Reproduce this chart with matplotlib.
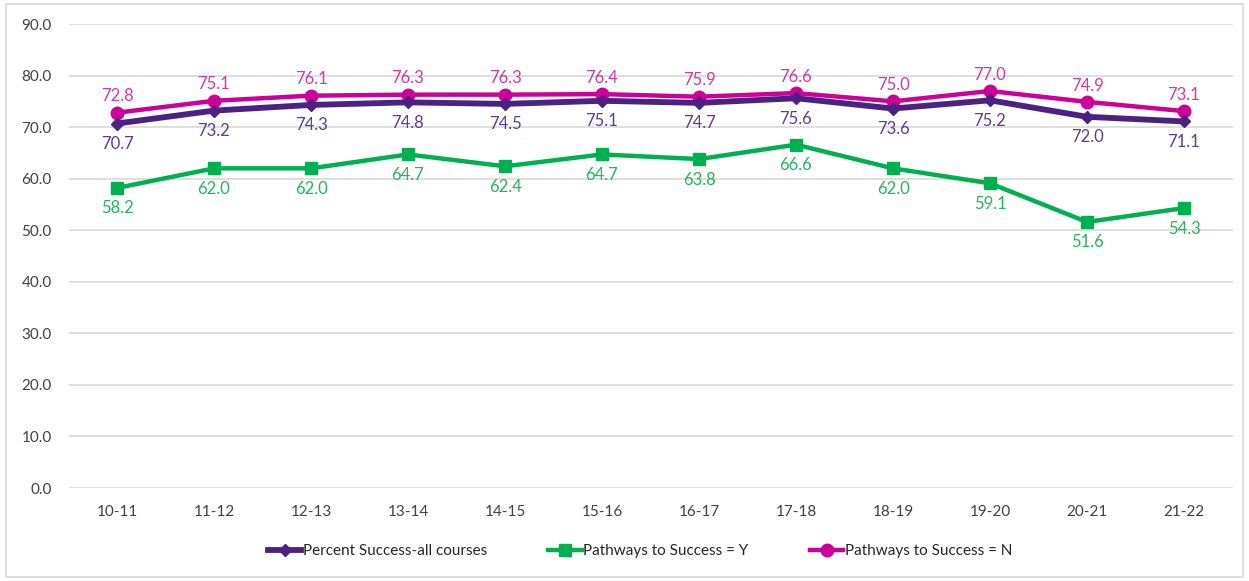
import matplotlib
matplotlib.use("Agg")
import matplotlib.pyplot as plt
from matplotlib.patches import Rectangle

categories = ["10-11", "11-12", "12-13", "13-14", "14-15", "15-16", "16-17", "17-18", "18-19", "19-20", "20-21", "21-22"]
all_courses = [70.7, 73.2, 74.3, 74.8, 74.5, 75.1, 74.7, 75.6, 73.6, 75.2, 72.0, 71.1]
pathways_y = [58.2, 62.0, 62.0, 64.7, 62.4, 64.7, 63.8, 66.6, 62.0, 59.1, 51.6, 54.3]
pathways_n = [72.8, 75.1, 76.1, 76.3, 76.3, 76.4, 75.9, 76.6, 75.0, 77.0, 74.9, 73.1]
yticks = [0, 10, 20, 30, 40, 50, 60, 70, 80, 90]

plt.rcParams['font.family'] = ['Lato', 'DejaVu Sans']

W, H = 1249, 581
fig = plt.figure(figsize=(W / 100, H / 100), dpi=100)
ax = fig.add_axes([68.5 / W, 1 - 488 / H, (1232.5 - 68.5) / W, (488 - 24) / H])

fig.patches.append(Rectangle((6 / W, 4 / H), (1243 - 6) / W, (577 - 4) / H, transform=fig.transFigure,
                             fill=False, edgecolor="#d9d9d9", linewidth=1.2))

x = list(range(len(categories)))
c_purple, c_green, c_mag = "#4B2182", "#00B050", "#CC0099"
l_purple, l_green, l_mag = "#5E3C8F", "#25B35F", "#D23AA2"

ax.plot(x, all_courses, color=c_purple, lw=4.2, marker="D", ms=6, label="Percent Success-all courses", zorder=4)
ax.plot(x, pathways_y, color=c_green, lw=3.2, marker="s", ms=9, label="Pathways to Success = Y", zorder=3)
ax.plot(x, pathways_n, color=c_mag, lw=3.2, marker="o", ms=9, label="Pathways to Success = N", zorder=3)

for xi, v in zip(x, all_courses):
    ax.annotate(f"{v:.1f}", (xi, v), xytext=(0, -9), textcoords="offset points", ha="center", va="top",
                color=l_purple, fontsize=12)
for xi, v in zip(x, pathways_y):
    ax.annotate(f"{v:.1f}", (xi, v), xytext=(0, -9), textcoords="offset points", ha="center", va="top",
                color=l_green, fontsize=12)
for xi, v in zip(x, pathways_n):
    ax.annotate(f"{v:.1f}", (xi, v), xytext=(0, 6), textcoords="offset points", ha="center", va="bottom",
                color=l_mag, fontsize=12)

ax.set_xlim(-0.5, len(categories) - 0.5)
ax.set_ylim(0, 90)
ax.set_yticks(yticks)
ax.set_yticklabels([f"{t:.1f}" for t in yticks])
ax.set_xticks(x)
ax.set_xticklabels(categories)
ax.tick_params(axis="both", length=0, labelsize=11, colors="#404040")
ax.tick_params(axis="y", pad=12)
ax.tick_params(axis="x", pad=12)
ax.grid(axis="y", color="#d9d9d9", lw=1.2)
ax.set_axisbelow(True)
for s in ax.spines.values():
    s.set_visible(False)

fig.legend(loc="center", bbox_to_anchor=(640 / W, 1 - 551 / H), ncol=3, frameon=False, fontsize=11,
           handlelength=2.2, columnspacing=4.0, handletextpad=0.1, labelcolor="#262626")

fig.savefig("out.png", dpi=100)
